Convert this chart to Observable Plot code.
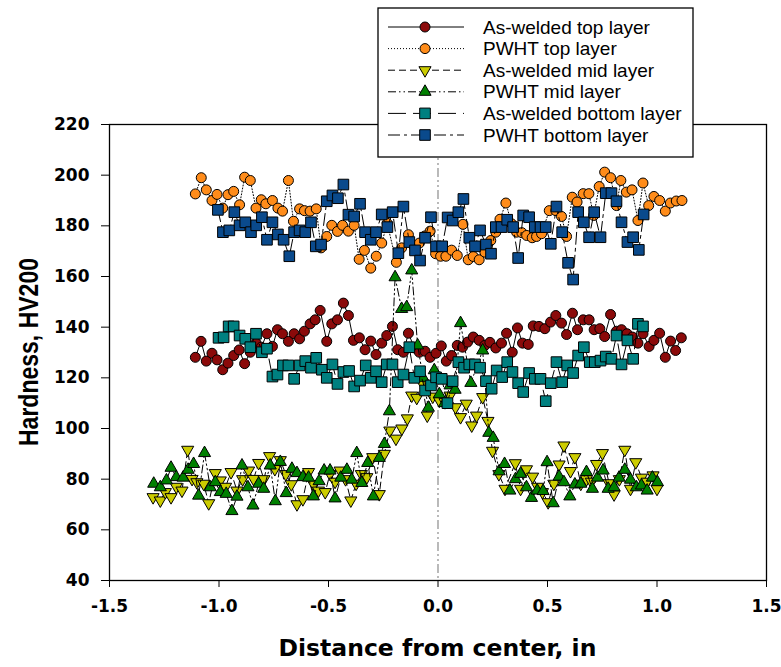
<!DOCTYPE html>
<html>
<head>
<meta charset="utf-8">
<script src="https://cdn.jsdelivr.net/npm/d3@7"></script>
<script src="https://cdn.jsdelivr.net/npm/@observablehq/plot@0.6"></script>
<style>
  body { margin: 0; background: #fff; }
  #chart { position: relative; width: 781px; height: 667px; }
</style>
</head>
<body>
<div id="chart"></div>
<script>
// Hardness traverses, [distance from center (in), HV200]
const asWeldedTop = [[-1.108,128.1],[-1.082,134.4],[-1.058,126.6],[-1.032,129.7],[-1.009,127.1],[-0.983,123.2],[-0.959,125.8],[-0.933,128.8],[-0.908,131],[-0.883,125.6],[-0.857,130.1],[-0.831,133.7],[-0.807,132.1],[-0.781,137.4],[-0.756,132.4],[-0.733,139],[-0.710,137.4],[-0.683,134.4],[-0.657,137.4],[-0.632,135.4],[-0.610,138.4],[-0.584,141.3],[-0.561,142.9],[-0.538,146.6],[-0.508,134.4],[-0.485,141.3],[-0.459,142.9],[-0.432,149.5],[-0.409,144.6],[-0.386,134.8],[-0.359,135.8],[-0.333,131.1],[-0.307,134.5],[-0.283,129.2],[-0.257,133.7],[-0.234,136.7],[-0.208,140.3],[-0.184,131.1],[-0.158,130.1],[-0.135,137.6],[-0.108,131.8],[-0.085,130.1],[-0.059,130.5],[-0.036,128.1],[-0.009,129.7],[0.015,132.6],[0.038,126.6],[0.062,128.8],[0.088,132.8],[0.112,132.1],[0.135,134.1],[0.161,136.1],[0.188,134.8],[0.214,132.8],[0.237,134],[0.264,131.8],[0.290,133.7],[0.313,137.6],[0.339,130.1],[0.363,139.7],[0.386,133.7],[0.412,133.2],[0.435,140.5],[0.461,140.3],[0.488,139.4],[0.514,142],[0.538,144.6],[0.564,141.6],[0.587,137.1],[0.614,145.5],[0.637,139],[0.663,142.9],[0.690,142.9],[0.713,139],[0.739,139.4],[0.761,136.3],[0.788,145],[0.815,138.4],[0.838,139],[0.863,137.4],[0.888,136.1],[0.913,133.7],[0.936,137.4],[0.964,132.4],[0.986,134.8],[1.012,137.6],[1.038,128.1],[1.062,134.5],[1.085,130.8],[1.111,135.8]];

const pwhtTop = [[-1.108,192.6],[-1.081,199],[-1.058,194.2],[-1.032,190],[-1.009,192.4],[-0.983,187],[-0.959,192.3],[-0.933,193.6],[-0.906,188.3],[-0.883,199.2],[-0.857,197.9],[-0.831,187],[-0.807,190.3],[-0.786,188.7],[-0.756,190],[-0.731,187],[-0.710,185.8],[-0.683,197.9],[-0.660,181.8],[-0.632,186.7],[-0.610,186],[-0.584,185.8],[-0.556,186.7],[-0.534,171.3],[-0.508,175.8],[-0.485,180.2],[-0.459,177.8],[-0.436,180.2],[-0.409,177.9],[-0.383,180.2],[-0.360,166.8],[-0.336,170.3],[-0.307,163.3],[-0.282,168],[-0.257,173.2],[-0.232,181],[-0.190,165.6],[-0.166,171.3],[-0.135,176.5],[-0.110,172],[-0.085,173.2],[-0.060,176],[-0.036,177.9],[-0.011,169],[0.012,168],[0.036,168],[0.062,170.4],[0.088,168.3],[0.114,180.6],[0.138,166.6],[0.161,167.9],[0.188,166.6],[0.214,169.6],[0.241,174.2],[0.264,177.5],[0.283,182.6],[0.310,189],[0.336,180.8],[0.359,177.5],[0.383,177.3],[0.405,176.2],[0.430,175.3],[0.450,175.8],[0.473,176.9],[0.508,186],[0.538,186],[0.564,183.7],[0.587,175.8],[0.613,191.3],[0.635,189.4],[0.663,192.7],[0.689,192.7],[0.711,184.1],[0.736,195.5],[0.761,201.2],[0.788,199],[0.815,188],[0.835,197.9],[0.860,193.3],[0.886,194.2],[0.913,182.1],[0.936,196.9],[0.962,188],[0.986,191.6],[1.012,190],[1.038,185.8],[1.061,189],[1.088,189.8],[1.114,190]];

const asWeldedMid = [[-1.301,72.9],[-1.268,71.6],[-1.245,74.9],[-1.219,72.9],[-1.195,77],[-1.169,75.5],[-1.143,91.6],[-1.123,80.1],[-1.101,78.8],[-1.070,78.2],[-1.047,70.5],[-1.017,82.4],[-0.994,79.5],[-0.970,77],[-0.945,82.8],[-0.918,75.5],[-0.892,80],[-0.865,83.4],[-0.842,80.1],[-0.819,86.4],[-0.795,80],[-0.769,89.1],[-0.745,84],[-0.720,87.5],[-0.695,82],[-0.670,78],[-0.644,70.1],[-0.617,72.1],[-0.591,82.8],[-0.568,78],[-0.546,75.5],[-0.515,74.9],[-0.493,82.1],[-0.470,79],[-0.447,83.4],[-0.422,80],[-0.398,71.6],[-0.374,78.2],[-0.350,82],[-0.325,80.8],[-0.298,88.7],[-0.268,74.1],[-0.245,90],[-0.220,99.2],[-0.192,96],[-0.165,100],[-0.140,104],[-0.120,113],[-0.097,112.1],[-0.073,118],[-0.049,105.1],[-0.024,112.6],[0.006,111],[0.032,110.4],[0.055,113],[0.080,108.4],[0.103,104.5],[0.129,109.8],[0.154,101.2],[0.176,105.1],[0.204,112.4],[0.228,103],[0.249,91.2],[0.278,82],[0.306,76.2],[0.353,86.3],[0.377,76.2],[0.404,83.9],[0.432,81],[0.455,77],[0.477,74.9],[0.503,70.9],[0.529,78.2],[0.553,85.8],[0.575,93.3],[0.605,83.2],[0.625,88.7],[0.652,78.2],[0.678,80],[0.700,79],[0.724,86],[0.751,90.3],[0.781,78.4],[0.804,74],[0.828,80],[0.853,91.6],[0.879,76.2],[0.903,86.7],[0.929,80.6],[0.955,79],[0.982,81.5],[1.000,76.2]];

const pwhtMid = [[-1.298,78.2],[-1.268,76.8],[-1.240,79.5],[-1.219,84.5],[-1.195,80.8],[-1.164,80.6],[-1.141,83.7],[-1.116,86],[-1.093,73.5],[-1.066,90.3],[-1.040,76.8],[-1.017,78.8],[-0.994,74.9],[-0.967,74.2],[-0.941,67.4],[-0.918,73.1],[-0.895,85.4],[-0.868,76.8],[-0.845,69.6],[-0.819,78.2],[-0.796,76.2],[-0.766,85.4],[-0.743,71.3],[-0.720,86.8],[-0.693,74.5],[-0.667,84.1],[-0.644,82.4],[-0.617,80.8],[-0.591,80.6],[-0.569,73.2],[-0.543,79.2],[-0.520,83.4],[-0.493,83.4],[-0.470,72.4],[-0.444,80.6],[-0.416,83.7],[-0.394,79.8],[-0.371,90.3],[-0.348,78.5],[-0.321,86.4],[-0.295,73.2],[-0.268,88.4],[-0.245,93.9],[-0.222,106.8],[-0.196,159.7],[-0.166,147.2],[-0.143,147.9],[-0.120,162.4],[-0.093,132.8],[-0.068,120],[-0.044,108.2],[-0.017,123],[0.006,113.5],[0.030,110],[0.055,117],[0.078,115.3],[0.103,141.6],[0.150,118],[0.204,130.8],[0.232,98.3],[0.252,96.3],[0.279,83.1],[0.304,86],[0.328,75.5],[0.354,80],[0.377,82.1],[0.404,76.8],[0.427,72.6],[0.453,75.5],[0.480,75.3],[0.498,86.7],[0.526,70.5],[0.553,81],[0.575,78.8],[0.602,73.2],[0.625,77.9],[0.652,78.2],[0.678,82.8],[0.705,76.2],[0.728,80.6],[0.754,83.4],[0.777,76.2],[0.804,76.8],[0.827,80.6],[0.853,83.7],[0.879,79.8],[0.906,76.8],[0.929,77.5],[0.955,75.5],[0.979,80.6],[1.002,78.8]];

const asWeldedBottom = [[-1.002,135.8],[-0.979,136],[-0.956,140.3],[-0.933,140.3],[-0.906,136.7],[-0.880,135.4],[-0.857,132.1],[-0.831,137.4],[-0.804,130.1],[-0.781,131.5],[-0.756,120.5],[-0.733,121.3],[-0.708,124.9],[-0.683,124.9],[-0.657,119.6],[-0.632,124.9],[-0.606,126.6],[-0.580,124],[-0.556,127.9],[-0.530,123.2],[-0.508,120],[-0.482,125.3],[-0.459,117.6],[-0.432,122.3],[-0.406,122.7],[-0.383,116.6],[-0.356,118.9],[-0.330,124.9],[-0.307,120],[-0.283,122.6],[-0.257,118.3],[-0.234,125.3],[-0.208,125.3],[-0.184,118.3],[-0.158,121.3],[-0.131,132.1],[-0.108,120],[-0.082,122.6],[-0.059,115],[-0.032,117],[-0.009,120.2],[0.017,119.6],[0.043,110],[0.067,118.7],[0.093,126.2],[0.119,124],[0.143,125.3],[0.169,125.3],[0.192,124],[0.219,118.7],[0.245,115.7],[0.268,122.9],[0.293,120.3],[0.316,126.2],[0.340,122.3],[0.366,117.9],[0.389,114.4],[0.416,121.9],[0.442,119.6],[0.468,119.6],[0.492,110.8],[0.515,117.9],[0.541,126.2],[0.567,118.3],[0.590,124.9],[0.617,121.9],[0.640,128.8],[0.666,132.1],[0.693,126.2],[0.716,126.2],[0.742,126.8],[0.766,128.4],[0.792,127.5],[0.815,136.7],[0.838,125.3],[0.865,134.8],[0.891,127.5],[0.913,141.3],[0.936,140.3]];

const pwhtBottom = [[-1.005,186.3],[-0.982,177.5],[-0.953,178.2],[-0.930,185.4],[-0.906,180.2],[-0.880,181.4],[-0.854,177.5],[-0.830,180.2],[-0.804,183.4],[-0.781,174.5],[-0.756,181.4],[-0.731,176.6],[-0.705,174.5],[-0.679,168],[-0.657,177.5],[-0.632,178.2],[-0.606,177.5],[-0.580,181.4],[-0.558,171.9],[-0.534,172.6],[-0.508,189.7],[-0.482,192],[-0.457,190.9],[-0.432,196.3],[-0.409,184.4],[-0.383,183.7],[-0.356,188.7],[-0.333,177.5],[-0.307,174.5],[-0.283,177.5],[-0.257,184.5],[-0.231,179.5],[-0.207,185.4],[-0.181,169.2],[-0.158,187.6],[-0.131,173.6],[-0.105,170.3],[-0.082,166.3],[-0.059,175.3],[-0.032,183.4],[-0.009,171.9],[0.019,171.9],[0.044,183.3],[0.067,182.1],[0.093,185.4],[0.116,190.6],[0.143,175.3],[0.169,171.9],[0.192,178.2],[0.219,172.6],[0.242,169],[0.264,179.5],[0.290,179.5],[0.316,182.4],[0.343,179.5],[0.366,167.3],[0.389,184.1],[0.416,183.4],[0.442,179.5],[0.468,179.5],[0.492,179.5],[0.515,172.9],[0.541,187.6],[0.567,177.5],[0.594,165.4],[0.617,158.8],[0.640,185.4],[0.666,181.4],[0.690,175.5],[0.713,185.4],[0.742,175.5],[0.766,192.9],[0.792,192.9],[0.815,189.7],[0.838,181.4],[0.865,173.6],[0.891,175.5],[0.917,170.5],[0.939,184.5]];

const seriesLabels = ["As-welded top layer", "PWHT top layer", "As-welded mid layer", "PWHT mid layer", "As-welded bottom layer", "PWHT bottom layer"];
const xTicks = [-1.5, -1.0, -0.5, 0.0, 0.5, 1.0, 1.5];
const yTicks = [40, 60, 80, 100, 120, 140, 160, 180, 200, 220];

// Downward-pointing triangle symbol (mirror of d3.symbolTriangle)
const triangleDown = {
  draw(context, size) {
    const y = -Math.sqrt(size / (Math.sqrt(3) * 3));
    const s3 = Math.sqrt(3);
    context.moveTo(0, -y * 2);
    context.lineTo(-s3 * y, y);
    context.lineTo(s3 * y, y);
    context.closePath();
  }
};

const series = [
  {label: seriesLabels[0], data: asWeldedTop,    fill: "#8b0a0a", symbol: "circle",   r: 5,   dash: "none"},
  {label: seriesLabels[1], data: pwhtTop,        fill: "#ff8c1a", symbol: "circle",   r: 5,   dash: "1,2"},
  {label: seriesLabels[2], data: asWeldedMid,    fill: "#cccc00", symbol: triangleDown, r: 4.5, dash: "7,4"},
  {label: seriesLabels[3], data: pwhtMid,        fill: "#008000", symbol: "triangle", r: 4.5, dash: "8,3,1.5,3,1.5,3"},
  {label: seriesLabels[4], data: asWeldedBottom, fill: "#008080", symbol: "square",   r: 6,   dash: "18,7"},
  {label: seriesLabels[5], data: pwhtBottom,     fill: "#0a4a8c", symbol: "square",   r: 6,   dash: "12,4,3,4"}
];

const tickFont = "DejaVu Sans, sans-serif";
const marks = [
  Plot.ruleX([0], {stroke: "#8c8c8c", strokeWidth: 1.2, strokeDasharray: "9,3,2,3,2,3"})
];
for (const s of series) {
  marks.push(Plot.line(s.data, {x: d => d[0], y: d => d[1], stroke: "black", strokeWidth: 1, strokeDasharray: s.dash}));
  marks.push(Plot.dot(s.data, {x: d => d[0], y: d => d[1], symbol: s.symbol, r: s.r, fill: s.fill, stroke: "black", strokeWidth: 1}));
}
marks.push(
  Plot.frame({stroke: "black", strokeWidth: 1.3}),
  Plot.axisX({ticks: xTicks, tickFormat: d => d.toFixed(1), tickSize: 7, tickPadding: 12, label: null,
              fontSize: 17, fontWeight: "bold", fontFamily: tickFont}),
  Plot.axisY({ticks: yTicks, tickFormat: d => String(d), tickSize: 8, tickPadding: 12, label: null,
              fontSize: 17, fontWeight: "bold", fontFamily: tickFont})
);

const plot = Plot.plot({
  width: 781,
  height: 667,
  marginLeft: 109,
  marginRight: 15,
  marginTop: 124,
  marginBottom: 87,
  x: {domain: [-1.5, 1.5]},
  y: {domain: [40, 220]},
  style: {background: "#fff", color: "black", overflow: "visible"},
  marks
});
document.getElementById("chart").appendChild(plot);

// Axis titles and legend, placed from the plot's own scales
const svg = d3.select(plot);
const xs = plot.scale("x"), ys = plot.scale("y");
const xMid = (xs.apply(-1.5) + xs.apply(1.5)) / 2;
const yMid = (ys.apply(40) + ys.apply(220)) / 2;

svg.append("text")
  .attr("x", xMid).attr("y", ys.apply(40) + 76)
  .attr("text-anchor", "middle")
  .attr("font-family", tickFont).attr("font-weight", "bold").attr("font-size", 23.5)
  .attr("fill", "black")
  .text("Distance from center, in");

svg.append("text")
  .attr("transform", `translate(${xs.apply(-1.5) - 81},${yMid}) rotate(-90)`)
  .attr("text-anchor", "middle").attr("dominant-baseline", "central")
  .attr("font-family", "Liberation Sans, Arial, sans-serif").attr("font-weight", "bold").attr("font-size", 28)
  .attr("textLength", 188).attr("lengthAdjust", "spacingAndGlyphs")
  .attr("fill", "black")
  .text("Hardness, HV200");

const legend = svg.append("g").attr("transform", "translate(378,8)");
legend.append("rect").attr("width", 315).attr("height", 149)
  .attr("fill", "white").attr("stroke", "black").attr("stroke-width", 1.3);
series.forEach((s, i) => {
  const y = 19 + i * 21.6;
  const row = legend.append("g").attr("transform", `translate(0,${y})`);
  row.append("line").attr("x1", 10).attr("x2", 86).attr("y1", 0).attr("y2", 0)
    .attr("stroke", "black").attr("stroke-width", 1)
    .attr("stroke-dasharray", s.dash);
  const sym = typeof s.symbol === "string"
    ? {circle: d3.symbolCircle, triangle: d3.symbolTriangle, square: d3.symbolSquare}[s.symbol]
    : s.symbol;
  row.append("path")
    .attr("transform", "translate(47,0)")
    .attr("d", d3.symbol(sym, Math.PI * s.r * s.r)())
    .attr("fill", s.fill).attr("stroke", "black").attr("stroke-width", 1);
  row.append("text").attr("x", 105).attr("y", 0)
    .attr("text-anchor", "start")
    .attr("dominant-baseline", "central")
    .attr("font-family", "Liberation Sans, Arial, sans-serif").attr("font-size", 19)
    .attr("fill", "black")
    .text(s.label);
});
</script>
</body>
</html>
